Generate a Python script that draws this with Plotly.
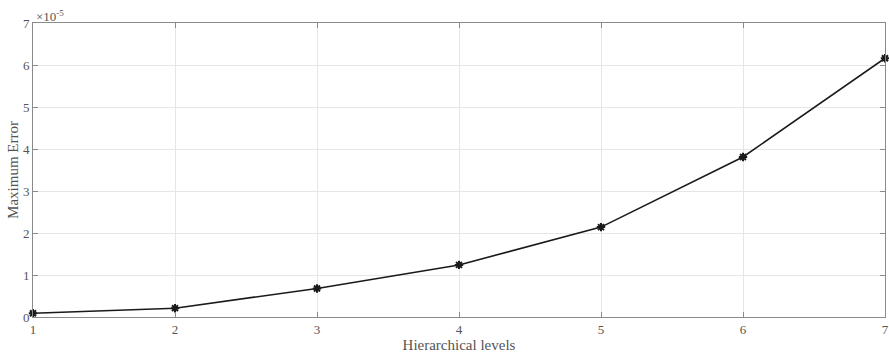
import plotly.graph_objects as go

levels = [1, 2, 3, 4, 5, 6, 7]
max_error_e5 = [0.09, 0.21, 0.68, 1.24, 2.14, 3.81, 6.16]  # in units of 1e-5
y_ticks = [0, 1, 2, 3, 4, 5, 6, 7]

font = "Liberation Serif, Times New Roman, serif"
axcol = "#8a8a8a"
txtcol = "#555555"

fig = go.Figure()
fig.add_trace(go.Scatter(
    x=levels, y=max_error_e5, mode="lines+markers",
    line=dict(color="#1a1a1a", width=1.6),
    marker=dict(symbol="asterisk-open", size=7, color="#1a1a1a",
                line=dict(color="#1a1a1a", width=2)),
    cliponaxis=False, showlegend=False,
))

fig.update_layout(
    width=889, height=353,
    margin=dict(l=33, r=4, t=23, b=36),
    paper_bgcolor="white", plot_bgcolor="white",
    font=dict(family=font, size=13, color=txtcol),
    xaxis=dict(range=[1, 7], tickvals=levels, showgrid=True, gridcolor="#e6e6e6",
               gridwidth=1, showline=True, linecolor=axcol, mirror="ticks",
               ticks="inside", ticklen=5, tickcolor=axcol, zeroline=False,
               automargin=False,
               title=dict(text="Hierarchical levels", standoff=3,
                          font=dict(size=15, color=txtcol)),
               tickfont=dict(size=13, color=txtcol)),
    yaxis=dict(range=[0, 7], tickvals=y_ticks, showgrid=True, gridcolor="#e6e6e6",
               gridwidth=1, showline=True, linecolor=axcol, mirror="ticks",
               ticks="inside", ticklen=5, tickcolor=axcol, zeroline=False,
               automargin=False,
               title=dict(text="Maximum Error", standoff=0,
                          font=dict(size=15, color=txtcol)),
               tickfont=dict(size=13, color=txtcol)),
)
fig.add_annotation(
    x=0, y=1, xref="paper", yref="paper", xanchor="left", yanchor="bottom",
    text="×10<sup>-5</sup>", showarrow=False, xshift=1, yshift=-3,
    font=dict(family=font, size=13, color=txtcol),
)
fig.write_html("out.html")
